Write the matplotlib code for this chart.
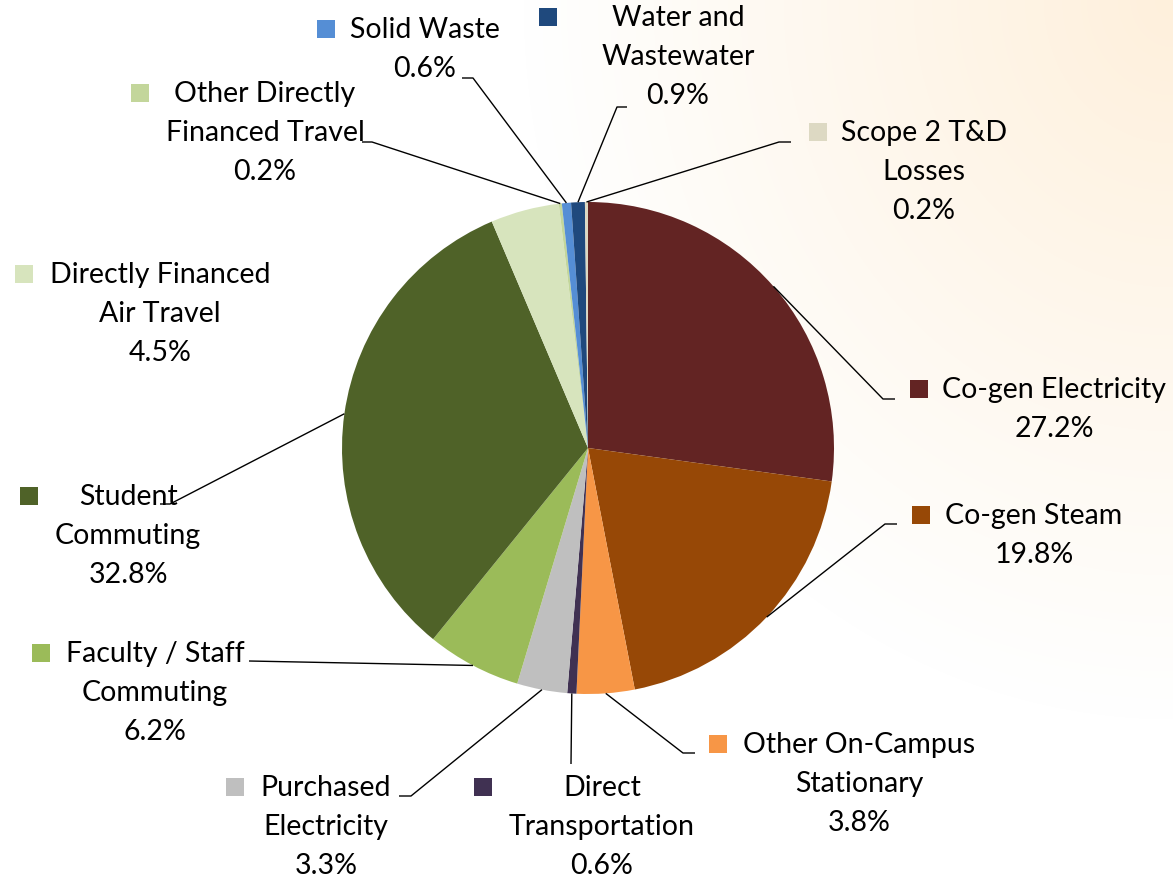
import numpy as np
import matplotlib.pyplot as plt
from matplotlib.patches import Rectangle

W, H = 1173, 878

categories = ["Co-gen Electricity", "Co-gen Steam", "Other On-Campus Stationary",
              "Direct Transportation", "Purchased Electricity", "Faculty / Staff Commuting",
              "Student Commuting", "Directly Financed Air Travel", "Other Directly Financed Travel",
              "Solid Waste", "Water and Wastewater", "Scope 2 T&D Losses"]
shares = [27.2, 19.8, 3.8, 0.6, 3.3, 6.2, 32.8, 4.5, 0.2, 0.6, 0.9, 0.2]
colors = ["#632423", "#974806", "#F79646", "#403152", "#BFBFBF", "#9BBB59",
          "#4F6228", "#D7E4BD", "#C3D69B", "#558ED5", "#1F497D", "#DDD9C3"]

# how each category name is wrapped on the chart
label_lines = [["Co-gen Electricity"], ["Co-gen Steam"], ["Other On-Campus", "Stationary"],
               ["Direct", "Transportation"], ["Purchased", "Electricity"],
               ["Faculty / Staff", "Commuting"], ["Student", "Commuting"],
               ["Directly Financed", "Air Travel"], ["Other Directly", "Financed Travel"],
               ["Solid Waste"], ["Water and", "Wastewater"], ["Scope 2 T&D", "Losses"]]

# layout in pixels (from top-left): text centre x, first line y, key square x
label_pos = [(1054, 390, 919), (1034, 516, 921), (859, 745, 718), (602, 788, 483),
             (326, 788, 235), (155, 654, 41), (128, 497, 29), (160, 275, 24),
             (265, 94, 140), (425, 30, 326), (678, 18, 548), (924, 133, 818)]
# leader line bends (pixels), the line starts on the wedge edge
leaders = [[(883, 400), (895, 400)], [(885, 525), (897, 525)], [(683, 754), (695, 754)],
           [(571, 765)], [(411, 797), (399, 797)], [(249, 662)], [(170, 505), (160, 505)],
           None, [(372, 143), (362, 143)], [(473, 79), (462, 79)],
           [(617, 108), (627, 108)], [(779, 143), (791, 143)]]

CX, CY, R = 588, 449, 246
LINE_H = 39
FONT = "Lato"
FS = 20.5


def fy(y):
    return H - y


fig = plt.figure(figsize=(W / 100, H / 100), dpi=100)

# faint peach glow in the top right corner
bg = fig.add_axes([0, 0, 1, 1])
xx, yy = np.meshgrid(np.arange(W), np.arange(H))
d = np.sqrt(((W - xx) / 650.0) ** 2 + (yy / 720.0) ** 2)
a = np.clip(1 - d, 0, 1)
peach = np.array([254, 240, 220]) / 255.0
img = np.ones((H, W, 3)) * (1 - a[..., None]) + peach * a[..., None]
bg.imshow(img, extent=[0, W, 0, H], origin="upper", aspect="auto")
bg.axis("off")

ax = fig.add_axes([0, 0, 1, 1])
ax.set_xlim(0, W)
ax.set_ylim(0, H)
ax.set_aspect("equal")
ax.axis("off")

wedges, _ = ax.pie(shares, colors=colors, startangle=90, counterclock=False,
                   center=(CX, fy(CY)), radius=R, frame=True)
ax.set_xlim(0, W)
ax.set_ylim(0, H)
ax.axis("off")

for i, w in enumerate(wedges):
    tx, ty, kx = label_pos[i]
    lines = label_lines[i] + [f"{shares[i]:.1f}%"]
    for j, s in enumerate(lines):
        ax.text(tx, fy(ty + j * LINE_H), s, ha="center", va="center",
                fontsize=FS, family=FONT, color="black")
    ax.add_patch(Rectangle((kx - 9, fy(ty) - 9), 18, 18, color=colors[i], lw=0))

    if leaders[i] is None:
        continue
    mid = np.deg2rad((w.theta1 + w.theta2) / 2)
    xs = [CX + R * np.cos(mid)]
    ys = [fy(CY) + R * np.sin(mid)]
    for px, py in leaders[i]:
        xs.append(px)
        ys.append(fy(py))
    ax.plot(xs, ys, color="black", lw=1.0, solid_capstyle="butt")

fig.savefig("out.png", dpi=100)
